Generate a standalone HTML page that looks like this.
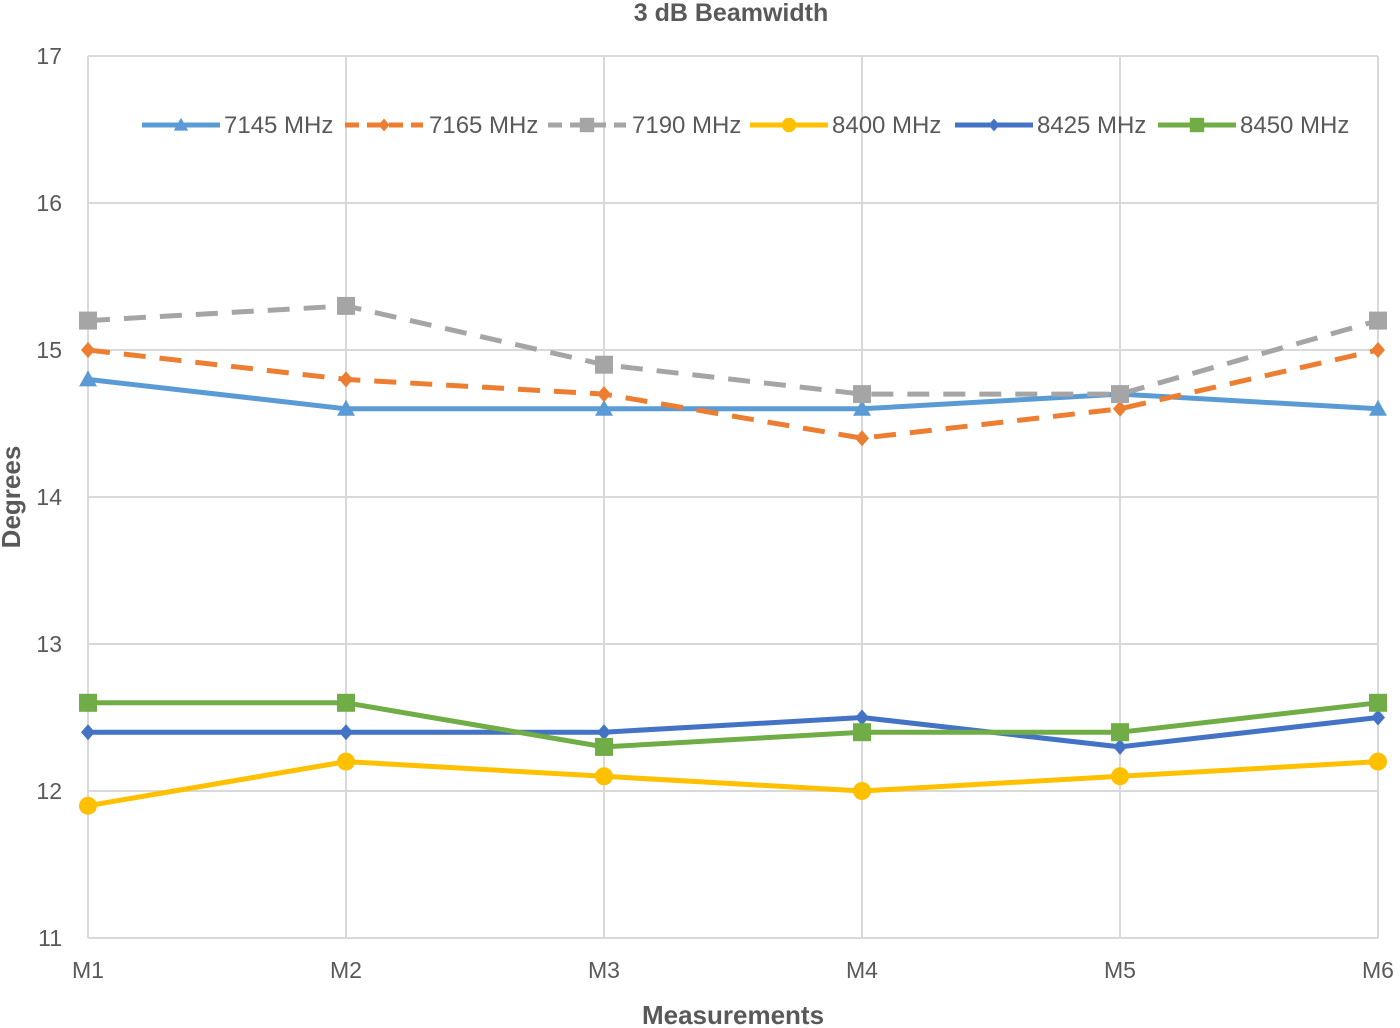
<!DOCTYPE html>
<html><head><meta charset="utf-8"><style>
body{margin:0;background:#fff;}
svg{display:block;font-family:"Liberation Sans",sans-serif;}
</style></head><body>
<svg id="chart" width="1400" height="1028">
<text x="731" y="21" text-anchor="middle" font-size="25" font-weight="bold" fill="#595959">3 dB Beamwidth</text>
<text transform="translate(20,497) rotate(-90)" text-anchor="middle" font-size="26" font-weight="bold" fill="#595959">Degrees</text>
<text x="733" y="1024" text-anchor="middle" font-size="26" font-weight="bold" fill="#595959">Measurements</text>
<g id="grid"></g><g id="series"></g><g id="legend"></g>
</svg>
<script>
const categories=["M1","M2","M3","M4","M5","M6"];
const yTicks=[11,12,13,14,15,16,17];
const seriesNames=["7145 MHz","7165 MHz","7190 MHz","8400 MHz","8425 MHz","8450 MHz"];
const s7145=[14.8,14.6,14.6,14.6,14.7,14.6];
const s7165=[15.0,14.8,14.7,14.4,14.6,15.0];
const s7190=[15.2,15.3,14.9,14.7,14.7,15.2];
const s8400=[11.9,12.2,12.1,12.0,12.1,12.2];
const s8425=[12.4,12.4,12.4,12.5,12.3,12.5];
const s8450=[12.6,12.6,12.3,12.4,12.4,12.6];
const NS="http://www.w3.org/2000/svg";
const x0=88,x1=1378,y0=938,y1=56,ymin=11,ymax=17;
const xs=i=>x0+i*(x1-x0)/(categories.length-1);
const ys=v=>y0-(v-ymin)*(y0-y1)/(ymax-ymin);
function mk(t,a,p){const e=document.createElementNS(NS,t);for(const k in a)e.setAttribute(k,a[k]);p.appendChild(e);return e;}
const grid=document.getElementById('grid');
yTicks.forEach(v=>{
 const l=mk('line',{x1:x0,x2:x1,y1:ys(v),y2:ys(v),stroke:'#d9d9d9','stroke-width':2},grid);
 
 
 const t=mk('text',{x:62,y:ys(v)+8,'text-anchor':'end','font-size':23,fill:'#595959'},grid);t.textContent=v;
 
 
});
categories.forEach((c,i)=>{
 const l=mk('line',{x1:xs(i),x2:xs(i),y1:y1,y2:y0,stroke:'#d9d9d9','stroke-width':2},grid);
 
 
 const t=mk('text',{x:xs(i),y:978,'text-anchor':'middle','font-size':23,fill:'#595959'},grid);t.textContent=c;
 
 
});
const styles=[
 {d:s7145,c:'#5b9bd5',dash:'',m:'tri'},
 {d:s7165,c:'#ed7d31',dash:'22,14',m:'dia'},
 {d:s7190,c:'#a5a5a5',dash:'22,14',m:'sq'},
 {d:s8400,c:'#ffc000',dash:'',m:'circ'},
 {d:s8425,c:'#4472c4',dash:'',m:'dia'},
 {d:s8450,c:'#70ad47',dash:'',m:'sq'}];
function marker(type,x,y,c,p,big){
 const s=big?1:0.8;let e;
 if(type==='tri')e=mk('polygon',{points:`${x},${y-9*s} ${x-9*s},${y+7*s} ${x+9*s},${y+7*s}`,fill:c},p);
 else if(type==='dia')e=mk('polygon',{points:`${x},${y-8*s} ${x+7*s},${y} ${x},${y+8*s} ${x-7*s},${y}`,fill:c},p);
 else if(type==='sq')e=mk('rect',{x:x-9*s,y:y-9*s,width:18*s,height:18*s,fill:c},p);
 else e=mk('circle',{cx:x,cy:y,r:9*s,fill:c},p);
 return e;
}
const sg=document.getElementById('series');
styles.forEach((st,k)=>{
 const g=mk('g',{},sg);
 
 
 const pts=st.d.map((v,i)=>xs(i)+','+ys(v)).join(' ');
 mk('polyline',{points:pts,fill:'none',stroke:st.c,'stroke-width':5,'stroke-dasharray':st.dash,'stroke-linejoin':'round'},g);
 st.d.forEach((v,i)=>{const m=marker(st.m,xs(i),ys(v),st.c,g,true);
  
  });
});
const lg=document.getElementById('legend');
const lx=[142,345,548,750,955,1158];
styles.forEach((st,k)=>{
 const g=mk('g',{},lg);
 
 
 mk('line',{x1:lx[k],x2:lx[k]+78,y1:125,y2:125,stroke:st.c,'stroke-width':5,'stroke-dasharray':st.dash?'14,8':''},g);
 marker(st.m,lx[k]+39,125,st.c,g,false);
 const t=mk('text',{x:lx[k]+(k===1||k===2?84:82),y:133,'font-size':24,fill:'#595959'},g);t.textContent=seriesNames[k];
});
</script>
</body></html>
